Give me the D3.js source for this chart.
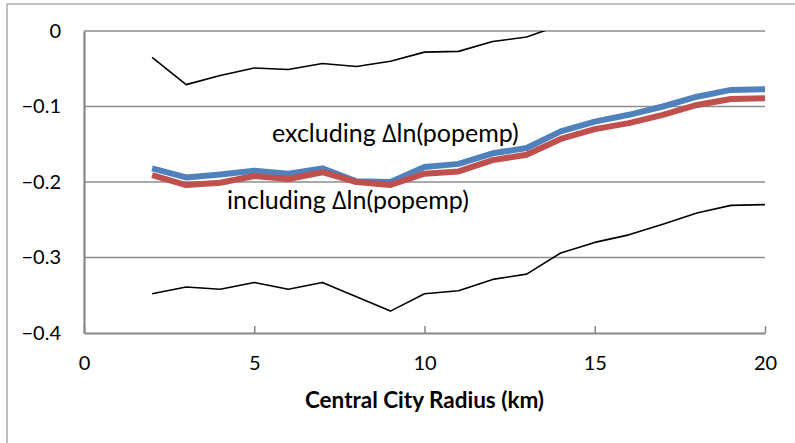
<!DOCTYPE html>
<html>
<head>
<meta charset="utf-8">
<style>
body { margin: 0; background: #fff; }
text { font-family: Lato, "Open Sans", sans-serif; fill: #000; }
</style>
</head>
<body>
<svg id="chart" width="795" height="443"></svg>
<script src="https://d3js.org/d3.v7.min.js"></script>
<script>
// radius in km
var radius = [2,3,4,5,6,7,8,9,10,11,12,13,14,15,16,17,18,19,20];
// excluding dln(popemp)
var excl = [-0.182,-0.194,-0.190,-0.185,-0.189,-0.182,-0.199,-0.200,-0.180,-0.176,-0.162,-0.155,-0.133,-0.120,-0.111,-0.100,-0.087,-0.078,-0.077];
// including dln(popemp)
var incl = [-0.191,-0.204,-0.201,-0.192,-0.196,-0.187,-0.200,-0.204,-0.189,-0.186,-0.171,-0.164,-0.143,-0.130,-0.122,-0.111,-0.098,-0.090,-0.089];
// confidence band
var upper = [-0.035,-0.071,-0.059,-0.049,-0.051,-0.043,-0.047,-0.040,-0.028,-0.027,-0.014,-0.008,0.008,0.020,0.027,0.033,0.045,0.051,0.051];
var lower = [-0.348,-0.339,-0.342,-0.333,-0.342,-0.333,-0.352,-0.371,-0.348,-0.344,-0.329,-0.322,-0.294,-0.280,-0.270,-0.256,-0.241,-0.231,-0.230];

var xTicks = [0,5,10,15,20];
var yTicks = [0,-0.1,-0.2,-0.3,-0.4];

var svg = d3.select('#chart');
var pl = 84, pr = 765, pt = 31, pb = 333;

var x = d3.scaleLinear().domain([0,20]).range([pl,pr]);
var y = d3.scaleLinear().domain([-0.4,0]).range([pb,pt]);

// outer chart frame
svg.append('rect').attr('x',7).attr('y',4).attr('width',800).attr('height',450)
  .attr('fill','none').attr('stroke','#a0a0a0').attr('stroke-width',1.3);

svg.append('clipPath').attr('id','clip').append('rect')
  .attr('x',pl).attr('y',pt).attr('width',pr-pl).attr('height',pb-pt);

// gridlines
svg.append('g').selectAll('line').data(yTicks.slice(0,4)).enter().append('line')
  .attr('x1',pl).attr('x2',pr)
  .attr('y1',function(d){return y(d);}).attr('y2',function(d){return y(d);})
  .attr('stroke','#8c8c8c').attr('stroke-width',1.3);

// axes
var xAxis = svg.append('g').attr('transform','translate(0,'+pb+')')
  .call(d3.axisBottom(x).tickValues(xTicks).tickSizeInner(-7).tickSizeOuter(0).tickPadding(31));
var yAxis = svg.append('g').attr('transform','translate('+pl+',0)')
  .call(d3.axisLeft(y).tickValues(yTicks).tickSize(0).tickPadding(23));

[xAxis,yAxis].forEach(function(a){
  a.select('.domain').attr('stroke','#868686').attr('stroke-width',2.2);
  a.selectAll('.tick line').attr('stroke','#868686').attr('stroke-width',1.5);
  a.selectAll('.tick text').attr('font-size',20).attr('font-family','Lato, sans-serif').attr('fill','#000');
});
yAxis.selectAll('.tick text').text(function(d){ return d === 0 ? '0' : d3.format('.1f')(d); });
xAxis.selectAll('.tick text').attr('dy','0.32em');

var line = d3.line()
  .x(function(d){return x(d[0]);})
  .y(function(d){return y(d[1]);});

function series(vals, color, w) {
  svg.append('path')
    .datum(radius.map(function(r,i){return [r, vals[i]];}))
    .attr('d', line)
    .attr('clip-path','url(#clip)')
    .attr('fill','none').attr('stroke',color).attr('stroke-width',w)
    .attr('stroke-linejoin','round');
}
series(upper,'#000',1.6);
series(lower,'#000',1.6);
series(excl,'#4f81bd',6);
series(incl,'#c0504d',6);

svg.append('text').attr('x',272).attr('y',142).attr('font-size',25)
  .text('excluding \u2206ln(popemp)');
svg.append('text').attr('x',227).attr('y',209).attr('font-size',25)
  .text('including \u2206ln(popemp)');

svg.append('text').attr('x',(pl+pr)/2).attr('y',408).attr('font-size',22.5)
  .attr('font-weight','bold').attr('text-anchor','middle')
  .text('Central City Radius (km)');
</script>
</body>
</html>
